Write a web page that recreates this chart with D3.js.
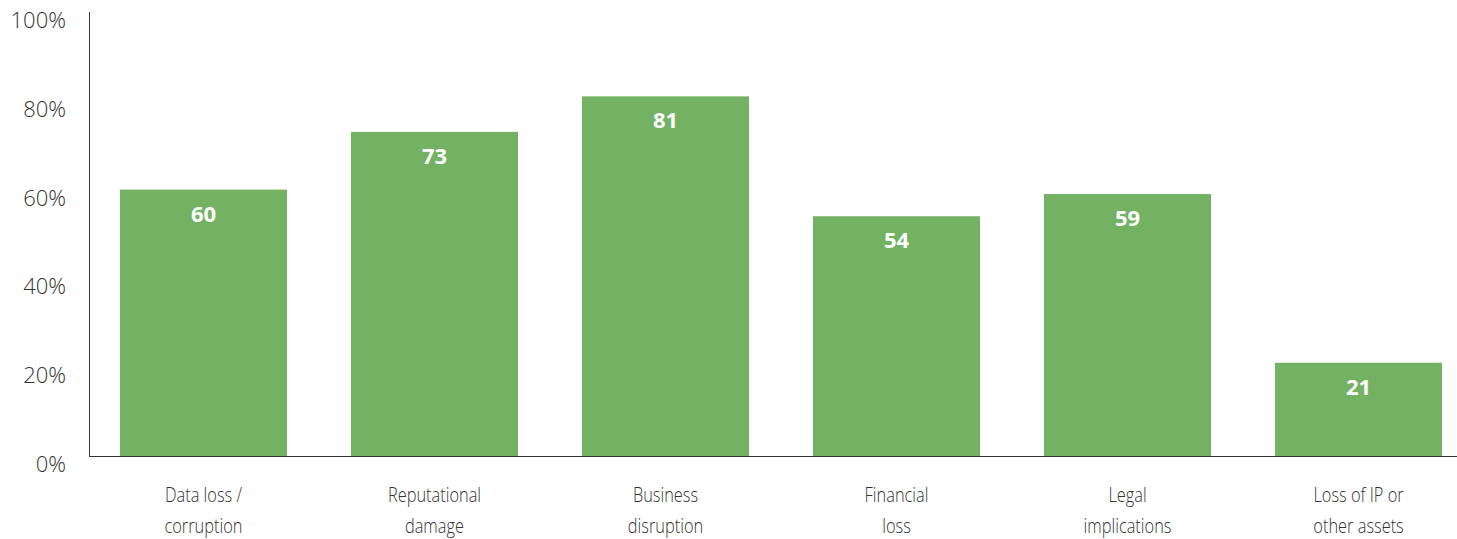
<!DOCTYPE html>
<html>
<head>
<meta charset="utf-8">
<script src="https://cdn.jsdelivr.net/npm/d3@7"></script>
<style>
  body { margin: 0; background: #fff; }
  .tick-label { font-family: "Open Sans", sans-serif; font-weight: 300; font-size: 22px; fill: #333; }
  .cat-label { font-family: "Open Sans", sans-serif; font-weight: 300; font-size: 21px; fill: #333; }
  .val-label { font-family: "Open Sans", sans-serif; font-weight: 700; font-size: 22px; fill: #fff; }
</style>
</head>
<body>
<div id="chart"></div>
<script>
var svgWidth = 1457;
var svgHeight = 539;

// chart data
var categories = [
  ["Data loss /", "corruption"],
  ["Reputational", "damage"],
  ["Business", "disruption"],
  ["Financial", "loss"],
  ["Legal", "implications"],
  ["Loss of IP or", "other assets"]
];
var values = [60, 73, 81, 54, 59, 21];
var tickValues = [0, 20, 40, 60, 80, 100];
var tickLabels = ["0%", "20%", "40%", "60%", "80%", "100%"];

var svg = d3.select("#chart")
  .append("svg")
  .attr("width", svgWidth)
  .attr("height", svgHeight);

var x0 = 89, yTop = 12, yBottom = 456;

var xScale = d3.scaleBand()
  .domain(d3.range(values.length))
  .range([x0, 1473])
  .paddingInner(0.277)
  .paddingOuter(0.134);

var yScale = d3.scaleLinear()
  .domain([0, 100])
  .range([yBottom, yTop]);

// bars
svg.selectAll("rect.bar")
  .data(values)
  .enter()
  .append("rect")
  .attr("class", "bar")
  .attr("x", (d, i) => xScale(i))
  .attr("y", d => yScale(d))
  .attr("width", xScale.bandwidth())
  .attr("height", d => yBottom - yScale(d))
  .attr("fill", "#74b263");

// value labels
svg.selectAll("text.val-label")
  .data(values)
  .enter()
  .append("text")
  .attr("class", "val-label")
  .attr("x", (d, i) => xScale(i) + xScale.bandwidth() / 2)
  .attr("y", d => yScale(d) + 32)
  .attr("text-anchor", "middle")
  .text(d => d);

// axes lines
svg.append("line")
  .attr("x1", x0 + 0.5).attr("x2", x0 + 0.5)
  .attr("y1", yTop).attr("y2", yBottom)
  .attr("stroke", "#333").attr("stroke-width", 1);

svg.append("line")
  .attr("x1", x0).attr("x2", svgWidth)
  .attr("y1", yBottom + 0.5).attr("y2", yBottom + 0.5)
  .attr("stroke", "#333").attr("stroke-width", 1);

// y tick labels
svg.selectAll("text.tick-label")
  .data(tickValues)
  .enter()
  .append("text")
  .attr("class", "tick-label")
  .attr("x", 66)
  .attr("y", d => yScale(d) + 16)
  .attr("text-anchor", "end")
  .text((d, i) => tickLabels[i]);

// category labels (squeezed to look like a condensed face)
var catGroups = svg.selectAll("g.cat")
  .data(categories)
  .enter()
  .append("g")
  .attr("class", "cat")
  .attr("transform", (d, i) => `translate(${xScale(i) + xScale.bandwidth() / 2}, 0)`);

catGroups.append("text")
  .attr("class", "cat-label")
  .attr("text-anchor", "middle")
  .attr("transform", "scale(0.78, 1)")
  .selectAll("tspan")
  .data(d => d)
  .enter()
  .append("tspan")
  .attr("x", 0)
  .attr("y", (d, i) => 502 + i * 31)
  .text(d => d);
</script>
</body>
</html>
